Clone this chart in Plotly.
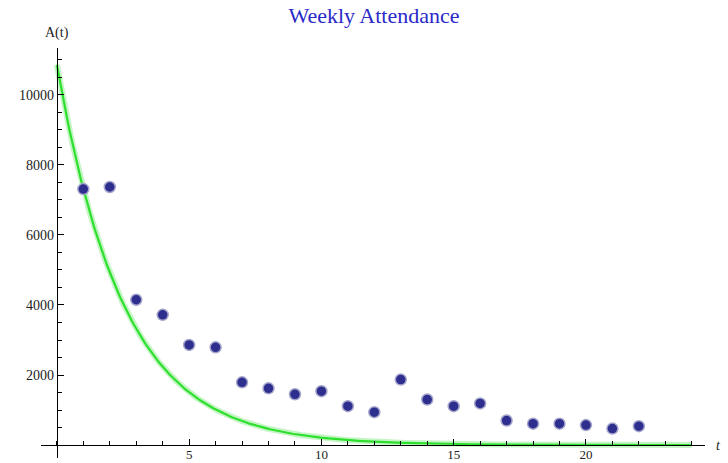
import numpy as np
import plotly.graph_objects as go

# Data
weeks = list(range(1, 23))
attendance = [7310, 7370, 4150, 3720, 2860, 2790, 1790, 1620, 1450, 1540,
              1110, 940, 1870, 1300, 1110, 1190, 700, 610, 610, 570, 470, 540]

# Fitted model A(t) = A0 * exp(-k t)
A0 = 10860
k = 0.395
t_fit = np.linspace(0, 24, 400)
a_fit = A0 * np.exp(-k * t_fit)

x_ticks = [5, 10, 15, 20]
y_ticks = [2000, 4000, 6000, 8000, 10000]
y_tick_labels = [str(v) for v in y_ticks]

xmin, xmax = -0.6, 24.5
ymin, ymax = -370, 11340

SERIF = "Liberation Serif"

fig = go.Figure()
fig.add_trace(go.Scatter(x=t_fit, y=a_fit, mode="lines",
                         line=dict(color="rgba(150,235,150,0.55)", width=6),
                         hoverinfo="skip", showlegend=False))
fig.add_trace(go.Scatter(x=t_fit, y=a_fit, mode="lines",
                         line=dict(color="#2ee02e", width=2.2),
                         hoverinfo="skip", showlegend=False))
fig.add_trace(go.Scatter(x=weeks, y=attendance, mode="markers",
                         marker=dict(size=11, color="#2e2e8e",
                                     line=dict(color="#a6a6cc", width=1.5)),
                         showlegend=False))

tickfont = dict(family=SERIF, size=14, color="#222")

fig.update_layout(
    width=728, height=463,
    margin=dict(l=41, r=23, t=48, b=5, autoexpand=False),
    plot_bgcolor="white", paper_bgcolor="white",
    title=dict(text="Weekly Attendance", x=374/728, xanchor="center",
               y=1 - 15/463, yanchor="middle",
               font=dict(family=SERIF, size=22, color="#2a2ac8")),
    xaxis=dict(range=[xmin, xmax], showgrid=False, zeroline=False,
               automargin=False,
               anchor="free", position=(0 - ymin) / (ymax - ymin),
               showline=True, linecolor="black", linewidth=1.3,
               tickmode="array", tickvals=x_ticks,
               ticks="inside", ticklen=6, tickwidth=1.2, tickcolor="black",
               tickfont=dict(family=SERIF, size=13, color="#222"),
               ticklabelstandoff=-3,
               minor=dict(dtick=1, tick0=0, ticks="inside", ticklen=3.5,
                          tickwidth=1, tickcolor="black", showgrid=False)),
    yaxis=dict(range=[ymin, ymax], showgrid=False, zeroline=False,
               automargin=False,
               anchor="free", position=(0 - xmin) / (xmax - xmin),
               showline=True, linecolor="black", linewidth=1.3,
               tickmode="array", tickvals=y_ticks, ticktext=y_tick_labels,
               ticks="inside", ticklen=6, tickwidth=1.2, tickcolor="black",
               tickfont=tickfont,
               minor=dict(dtick=500, tick0=0, ticks="inside", ticklen=3.5,
                          tickwidth=1, tickcolor="black", showgrid=False)),
    annotations=[
        dict(text="A(t)", x=0, xref="x", y=1, yref="paper", yshift=15,
             showarrow=False, xanchor="center", yanchor="middle",
             font=dict(family=SERIF, size=14, color="#222")),
        dict(text="<i>t</i>", x=1, xref="paper", y=0, yref="y", xshift=13,
             showarrow=False, xanchor="center", yanchor="middle",
             font=dict(family=SERIF, size=14, color="#222")),
    ],
)

fig.write_html("out.html")
